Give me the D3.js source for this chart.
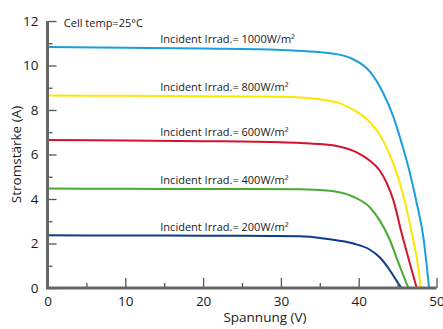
<!DOCTYPE html>
<html lang="de">
<head>
<meta charset="utf-8">
<title>Kennlinien</title>
<script src="https://cdn.jsdelivr.net/npm/d3@7"></script>
<style>
  body { margin: 0; background: #fff; }
  text { font-family: "Open Sans", "Noto Sans", sans-serif; fill: #1a1a1a; }
</style>
</head>
<body>
<script>
// irradiance levels, top to bottom
var irradLabels = ["1000", "800", "600", "400", "200"];
var curveColors = ["#1a9fde", "#ffe500", "#d5132e", "#4aab34", "#0b3c8c"];

// voltage (V) / current (A) points
var volt1000 = [0, 10, 20, 30, 36.3, 38.9, 41.45, 43.16, 44.45, 45.53, 46.38, 47.46, 48.3, 49.05];
var curr1000 = [10.83, 10.8, 10.76, 10.7, 10.55, 10.34, 9.72, 8.75, 7.7, 6.5, 5.45, 3.81, 2.31, 0];

var volt800 = [0, 10, 20, 30, 35.0, 37.6, 39.74, 41.45, 42.7, 43.98, 45.09, 45.95, 46.81, 47.66, 47.97];
var curr800 = [8.65, 8.64, 8.62, 8.6, 8.48, 8.3, 7.93, 7.45, 6.9, 6.0, 4.95, 3.85, 2.5, 0.9, 0];

var volt600 = [0, 10, 20, 30, 35.0, 37.6, 39.74, 41.45, 42.7, 43.6, 44.45, 45.53, 46.81, 47.46];
var curr600 = [6.65, 6.63, 6.6, 6.55, 6.47, 6.35, 6.1, 5.72, 5.28, 4.72, 3.95, 2.45, 0.81, 0];

var volt400 = [0, 10, 20, 32.5, 36.3, 39.3, 41.45, 42.7, 43.98, 45.09, 45.95, 46.38];
var curr400 = [4.47, 4.46, 4.45, 4.44, 4.37, 4.1, 3.62, 3.04, 2.18, 1.15, 0.38, 0];

var volt200 = [0, 10, 20, 32.5, 36, 39.3, 41.45, 42.7, 43.98, 45.09, 45.5];
var curr200 = [2.37, 2.36, 2.35, 2.33, 2.2, 2.0, 1.72, 1.38, 0.81, 0.21, 0];

var xMajor = [0, 10, 20, 30, 40, 50];
var xMinor = [5, 15, 25, 35, 45];
var yMajor = [0, 2, 4, 6, 8, 10, 12];
var yMinor = [1, 3, 5, 7, 9, 11];

var volts = [volt1000, volt800, volt600, volt400, volt200];
var currs = [curr1000, curr800, curr600, curr400, curr200];

var w = 443, h = 329;
var margin = { top: 21, right: 6.5, bottom: 41, left: 47.5 };

var x = d3.scaleLinear().domain([0, 50]).range([margin.left, w - margin.right]);
var y = d3.scaleLinear().domain([0, 12]).range([h - margin.bottom, margin.top]);

var svg = d3.select("body").append("svg")
  .attr("width", w)
  .attr("height", h);

//curves
var line = d3.line()
  .x(function(d) { return x(d[0]); })
  .y(function(d) { return y(d[1]); })
  .curve(d3.curveMonotoneX);

var series = volts.map(function(v, i) {
  return v.map(function(val, j) { return [val, currs[i][j]]; });
});

svg.selectAll("path.curve")
  .data(series)
  .enter()
  .append("path")
  .attr("class", "curve")
  .attr("d", line)
  .attr("fill", "none")
  .attr("stroke", function(d, i) { return curveColors[i]; })
  .attr("stroke-width", 2);

//curve labels
svg.selectAll("text.irr")
  .data(irradLabels)
  .enter()
  .append("text")
  .attr("class", "irr")
  .attr("x", x(14.5))
  .attr("y", function(d, i) { return y(currs[i][0]) - 4.5; })
  .style("font-size", "11px")
  .text(function(d) { return "Incident Irrad.= " + d + "W/m²"; });

svg.append("text")
  .attr("x", x(2.1))
  .attr("y", y(12) + 5.5)
  .style("font-size", "11px")
  .text("Cell temp=25°C");

//axes
function styleAxis(g) {
  g.select(".domain").remove();
  g.selectAll(".tick line").attr("stroke", "#555").attr("stroke-width", 1.3);
  g.selectAll(".tick text").style("font-size", "13.5px").attr("fill", "#1a1a1a");
}

svg.append("g")
  .attr("transform", "translate(" + margin.left + ",0)")
  .call(d3.axisLeft(y).tickValues(yMajor).tickSize(-9).tickPadding(9).tickFormat(d3.format("d")))
  .call(styleAxis);

svg.append("g")
  .attr("transform", "translate(" + margin.left + ",0)")
  .call(d3.axisLeft(y).tickValues(yMinor).tickSize(-5).tickFormat(""))
  .call(styleAxis);

svg.append("g")
  .attr("transform", "translate(0," + y(0) + ")")
  .call(d3.axisBottom(x).tickValues(xMajor).tickSize(-10).tickPadding(8).tickFormat(d3.format("d")))
  .call(styleAxis);

svg.append("g")
  .attr("transform", "translate(0," + y(0) + ")")
  .call(d3.axisBottom(x).tickValues(xMinor).tickSize(-5).tickFormat(""))
  .call(styleAxis);

// thick axis lines
svg.append("path")
  .attr("d", "M" + x(0) + "," + y(12) + "V" + y(0) + "H" + x(50))
  .attr("fill", "none")
  .attr("stroke", "#666")
  .attr("stroke-width", 3);

//axis titles
svg.append("text")
  .attr("x", 265)
  .attr("y", h - 7)
  .attr("text-anchor", "middle")
  .style("font-size", "13.5px")
  .text("Spannung (V)");

svg.append("text")
  .attr("transform", "translate(21," + ((y(0) + y(12)) / 2) + ") rotate(-90)")
  .attr("text-anchor", "middle")
  .style("font-size", "13.5px")
  .text("Stromstärke (A)");
</script>
</body>
</html>
